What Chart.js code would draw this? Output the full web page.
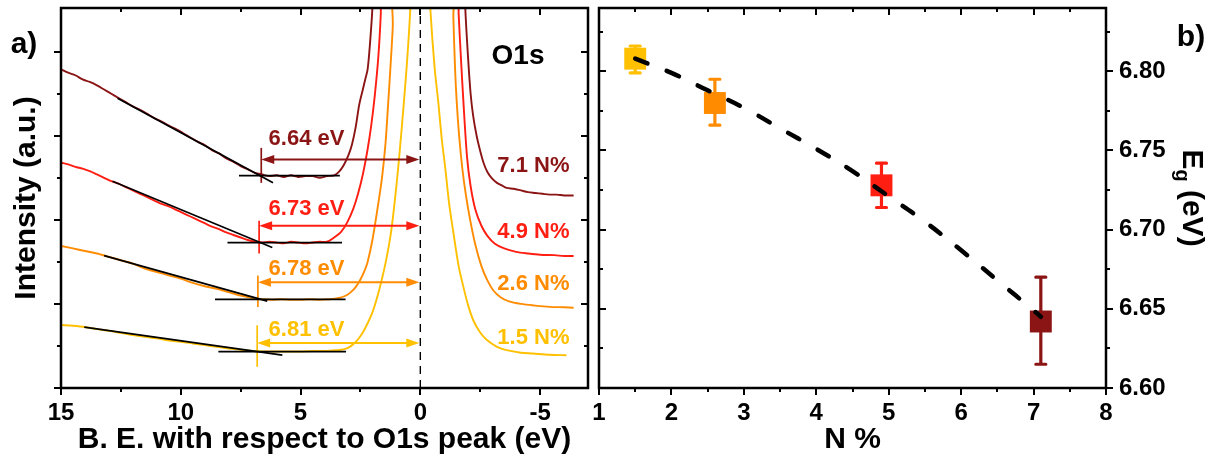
<!DOCTYPE html>
<html>
<head>
<meta charset="utf-8">
<script src="https://cdn.jsdelivr.net/npm/chart.js@4.4.1/dist/chart.umd.min.js"></script>
<style>
body { margin: 0; background: #fff; }
#wrap { position: relative; width: 1219px; height: 464px; overflow: hidden; }
canvas { position: absolute; top: 0; }
#spec { left: 0; }
#gap { left: 588px; }
</style>
</head>
<body>
<div id="wrap">
<canvas id="spec" width="595" height="464"></canvas>
<canvas id="gap" width="631" height="464"></canvas>
</div>
<script>
// cores das amostras (7.1, 4.9, 2.6, 1.5 N%)
var colDark = '#8b1414', colRed = '#ff1e12', colOrange = '#ff8c00', colYellow = '#ffc000';

// espectros O1s (energia de ligação relativa ao pico, intensidade em u.a.)
var be71 = [15.0, 14.7, 14.4, 14.1, 13.8, 13.5, 13.2, 12.9, 12.6, 12.3, 12.0, 11.7, 11.4, 11.1, 10.8, 10.5, 10.2, 9.9, 9.6, 9.3, 9.0, 8.7, 8.4, 8.1, 7.8, 7.5, 7.2, 6.9, 6.6, 6.3, 6.0, 5.7, 5.4, 5.1, 4.8, 4.5, 4.2, 3.9, 3.6, 3.4, 3.2, 3.0, 2.85, 2.7, 2.55, 2.4, 2.3, 2.2, 2.1, 2.0, 1.9,
            -1.8, -1.88, -2.0, -2.1, -2.2, -2.35, -2.5, -2.65, -2.8, -3.0, -3.2, -3.4, -3.6, -3.9, -4.2, -4.5, -4.8, -5.1, -5.4, -5.7, -6.0, -6.4];
var int71 = [3.79, 3.75, 3.72, 3.67, 3.64, 3.60, 3.55, 3.50, 3.45, 3.40, 3.35, 3.31, 3.26, 3.21, 3.17, 3.12, 3.08, 3.03, 2.98, 2.93, 2.89, 2.83, 2.79, 2.73, 2.69, 2.64, 2.60, 2.56, 2.54, 2.52, 2.53, 2.51, 2.53, 2.51, 2.52, 2.52, 2.50, 2.52, 2.53, 2.57, 2.65, 2.77, 2.90, 3.10, 3.37, 3.55, 3.67, 3.79, 4.10, 4.52, 5.2,
             5.2, 4.5, 3.9, 3.5, 3.25, 3.0, 2.82, 2.67, 2.57, 2.49, 2.44, 2.41, 2.38, 2.37, 2.35, 2.33, 2.32, 2.31, 2.30, 2.30, 2.29, 2.29];

var be49 = [15.0, 14.7, 14.4, 14.1, 13.8, 13.5, 13.2, 12.9, 12.6, 12.3, 12.0, 11.7, 11.4, 11.1, 10.8, 10.5, 10.2, 9.9, 9.6, 9.3, 9.0, 8.7, 8.4, 8.1, 7.8, 7.5, 7.2, 6.9, 6.6, 6.3, 6.0, 5.7, 5.4, 5.1, 4.8, 4.5, 4.2, 3.9, 3.6, 3.3, 3.05, 2.8, 2.6, 2.4, 2.2, 2.05, 1.9, 1.75, 1.65, 1.55,
            -1.5, -1.6, -1.7, -1.8, -1.95, -2.1, -2.3, -2.55, -2.8, -3.1, -3.5, -4.0, -4.5, -5.0, -5.6, -6.0, -6.4];
var int49 = [2.68, 2.66, 2.63, 2.61, 2.58, 2.54, 2.50, 2.46, 2.43, 2.39, 2.35, 2.31, 2.27, 2.23, 2.19, 2.16, 2.12, 2.08, 2.04, 2.00, 1.96, 1.92, 1.89, 1.85, 1.82, 1.79, 1.76, 1.74, 1.73, 1.74, 1.73, 1.72, 1.74, 1.73, 1.72, 1.73, 1.74, 1.74, 1.79, 1.86, 1.97, 2.13, 2.31, 2.54, 2.84, 3.12, 3.48, 3.95, 4.45, 5.2,
             5.2, 4.45, 3.9, 3.4, 2.75, 2.4, 2.12, 1.93, 1.81, 1.72, 1.66, 1.62, 1.60, 1.585, 1.58, 1.57, 1.57];

var be26 = [15.0, 14.5, 14.0, 13.5, 13.0, 12.5, 12.0, 11.5, 11.0, 10.5, 10.0, 9.5, 9.0, 8.5, 8.0, 7.5, 7.0, 6.6, 6.2, 5.8, 5.4, 5.0, 4.6, 4.2, 3.8, 3.4, 3.1, 2.9, 2.7, 2.5, 2.35, 2.2, 2.0, 1.8, 1.6, 1.45, 1.35, 1.25, 1.15, 1.05,
            -1.3, -1.38, -1.45, -1.52, -1.62, -1.75, -1.9, -2.08, -2.3, -2.55, -2.8, -3.05, -3.35, -3.7, -4.2, -4.8, -5.4, -6.0, -6.4];
var int26 = [1.69, 1.66, 1.63, 1.60, 1.56, 1.52, 1.48, 1.42, 1.38, 1.34, 1.30, 1.25, 1.21, 1.18, 1.14, 1.10, 1.07, 1.055, 1.05, 1.055, 1.05, 1.05, 1.055, 1.05, 1.055, 1.07, 1.10, 1.14, 1.20, 1.29, 1.38, 1.50, 1.76, 2.11, 2.50, 2.92, 3.35, 3.80, 4.30, 5.2,
             5.2, 4.4, 3.8, 3.4, 3.0, 2.62, 2.3, 2.0, 1.7, 1.45, 1.28, 1.16, 1.08, 1.03, 1.0, 0.98, 0.965, 0.96, 0.955];

var be15 = [15.0, 14.5, 14.0, 13.5, 13.0, 12.5, 12.0, 11.5, 11.0, 10.5, 10.0, 9.5, 9.0, 8.5, 8.0, 7.5, 7.0, 6.5, 6.0, 5.5, 5.0, 4.5, 4.0, 3.5, 3.2, 3.0, 2.8, 2.6, 2.4, 2.2, 2.0, 1.8, 1.6, 1.4, 1.2, 1.0, 0.85, 0.7, 0.55, 0.42, 0.32,
            -0.3, -0.42, -0.6, -0.75, -0.9, -1.04, -1.2, -1.39, -1.6, -1.8, -2.0, -2.22, -2.5, -2.78, -3.2, -3.6, -4.2, -4.7, -5.4, -6.1];
var int15 = [0.75, 0.74, 0.725, 0.70, 0.68, 0.655, 0.63, 0.61, 0.59, 0.565, 0.55, 0.53, 0.51, 0.49, 0.47, 0.455, 0.44, 0.435, 0.435, 0.435, 0.435, 0.44, 0.44, 0.45, 0.46, 0.48, 0.52, 0.58, 0.66, 0.77, 0.90, 1.08, 1.30, 1.56, 1.90, 2.40, 2.85, 3.35, 3.90, 4.50, 5.2,
             5.2, 4.5, 3.8, 3.4, 2.95, 2.62, 2.2, 1.83, 1.45, 1.2, 0.98, 0.80, 0.66, 0.57, 0.49, 0.45, 0.42, 0.41, 0.395, 0.39];

// retas de extrapolação (pretas)
var tanBE71 = [12.64, 6.15], tanI71 = [3.447, 2.441], flatBE71 = [7.57, 3.36], flatI71 = [2.525, 2.525];
var tanBE49 = [12.85, 6.18], tanI49 = [2.46, 1.672], flatBE49 = [8.05, 3.27], flatI49 = [1.73, 1.73];
var tanBE26 = [13.2, 6.39], tanI26 = [1.574, 1.033], flatBE26 = [8.57, 3.12], flatI26 = [1.055, 1.055];
var tanBE15 = [14.03, 5.76], tanI15 = [0.725, 0.39], flatBE15 = [8.43, 3.1], flatI15 = [0.432, 0.432];

// gap, setas e rótulos
var gapEV = [6.64, 6.73, 6.78, 6.81];
var gapLabels = ['6.64 eV', '6.73 eV', '6.78 eV', '6.81 eV'];
var sampleLabels = ['7.1 N%', '4.9 N%', '2.6 N%', '1.5 N%'];
var arrowY = [2.718, 1.93, 1.258, 0.536];
var markLow = [2.44, 1.60, 0.962, 0.252];
var markHigh = [2.856, 1.99, 1.337, 0.746];
var gapLabelY = [2.966, 2.127, 1.417, 0.695];
var sampleLabelY = [2.64, 1.858, 1.239, 0.60];

// painel b) Eg vs N%
var nPct = [1.5, 2.6, 4.9, 7.1];
var eg = [6.808, 6.780, 6.728, 6.642];
var egLow = [6.799, 6.766, 6.714, 6.615];
var egHigh = [6.816, 6.795, 6.742, 6.670];
var fitN = [1.5, 2.0, 2.5, 3.0, 3.5, 4.0, 4.5, 5.0, 5.5, 6.0, 6.5, 7.0, 7.1];
var fitEg = [6.808, 6.799, 6.788, 6.777, 6.764, 6.751, 6.737, 6.721, 6.705, 6.687, 6.668, 6.649, 6.645];

// ticks
var specXTicks = [15, 10, 5, 0, -5], specXMinor = [12.5, 7.5, 2.5, -2.5];
var specYTicks = [0, 1, 2, 3, 4], specYMinor = [0.5, 1.5, 2.5, 3.5];
var nTicks = [1, 2, 3, 4, 5, 6, 7, 8], nMinor = [1.5, 2.5, 3.5, 4.5, 5.5, 6.5, 7.5];
var egTicks = [6.60, 6.65, 6.70, 6.75, 6.80], egMinor = [6.625, 6.675, 6.725, 6.775, 6.825];
var egTickLabels = ['6.60', '6.65', '6.70', '6.75', '6.80'];

var sampleColors = [colDark, colRed, colOrange, colYellow];   // painel a): de cima para baixo
var pointColors = [colYellow, colOrange, colRed, colDark];    // painel b): na ordem de nPct

Chart.defaults.font.family = '"Liberation Sans", Arial, sans-serif';
Chart.defaults.color = '#000';

var FAM = '"Liberation Sans", Arial, sans-serif';
var tickFont = { size: 24, weight: 'bold' };
var titleFont = { size: 30, weight: 'bold', lineHeight: 1 };

function pts(xs, ys) {
    return xs.map(function (x, i) { return { x: x, y: ys[i] }; });
}

// tira o espaço extra que o Chart.js reserva para rótulos nas pontas
function noEdgePad(s) {
    s.paddingLeft = 0; s.paddingRight = 0; s.paddingTop = 0; s.paddingBottom = 0;
}

// moldura + ticks maiores/menores (como no Origin)
function framePlugin(cfg) {
    return {
        id: 'frame',
        afterDraw: function (chart) {
            var ctx = chart.ctx, a = chart.chartArea;
            var xs = chart.scales.x, ys = chart.scales.y;
            ctx.save();
            ctx.strokeStyle = '#000';
            ctx.lineWidth = 2;
            function vtick(vals, len) {
                vals.forEach(function (v) {
                    var p = Math.round(xs.getPixelForValue(v));
                    ctx.beginPath();
                    ctx.moveTo(p, a.bottom); ctx.lineTo(p, a.bottom + len);
                    ctx.moveTo(p, a.top); ctx.lineTo(p, a.top + len);
                    ctx.stroke();
                });
            }
            function htick(vals, len) {
                vals.forEach(function (v) {
                    var p = Math.round(ys.getPixelForValue(v));
                    ctx.beginPath();
                    if (cfg.leftOut) { ctx.moveTo(a.left - len, p); ctx.lineTo(a.left, p); }
                    else { ctx.moveTo(a.left, p); ctx.lineTo(a.left + len, p); }
                    if (cfg.rightOut) { ctx.moveTo(a.right, p); ctx.lineTo(a.right + len, p); }
                    else { ctx.moveTo(a.right - len, p); ctx.lineTo(a.right, p); }
                    ctx.stroke();
                });
            }
            vtick(cfg.xMajor, 7); vtick(cfg.xMinor, 4);
            htick(cfg.yMajor, 7); htick(cfg.yMinor, 4);
            ctx.lineWidth = 2.5;
            ctx.strokeRect(a.left, a.top, a.right - a.left, a.bottom - a.top);
            ctx.restore();
        }
    };
}

// setas de gap + textos do painel a)
var specDecor = {
    id: 'specDecor',
    afterDatasetsDraw: function (chart) {
        var ctx = chart.ctx, xs = chart.scales.x, ys = chart.scales.y;
        ctx.save();
        for (var i = 0; i < gapEV.length; i++) {
            var x1 = xs.getPixelForValue(gapEV[i]), x2 = xs.getPixelForValue(0);
            var y = ys.getPixelForValue(arrowY[i]);
            ctx.strokeStyle = sampleColors[i];
            ctx.fillStyle = sampleColors[i];
            ctx.lineWidth = 2;
            ctx.beginPath(); ctx.moveTo(x1 + 10, y); ctx.lineTo(x2 - 10, y); ctx.stroke();
            ctx.beginPath(); ctx.moveTo(x1, y); ctx.lineTo(x1 + 13, y - 4.5); ctx.lineTo(x1 + 13, y + 4.5); ctx.closePath(); ctx.fill();
            ctx.beginPath(); ctx.moveTo(x2 - 1, y); ctx.lineTo(x2 - 14, y - 4.5); ctx.lineTo(x2 - 14, y + 4.5); ctx.closePath(); ctx.fill();

            ctx.font = 'bold 22px ' + FAM;
            ctx.textAlign = 'center';
            ctx.textBaseline = 'middle';
            ctx.fillText(gapLabels[i], xs.getPixelForValue(4.75), ys.getPixelForValue(gapLabelY[i]));
            ctx.fillText(sampleLabels[i], xs.getPixelForValue(-4.72), ys.getPixelForValue(sampleLabelY[i]));
        }
        ctx.fillStyle = '#000';
        ctx.font = 'bold 28px ' + FAM;
        ctx.fillText('O1s', xs.getPixelForValue(-4.08), ys.getPixelForValue(3.95));
        ctx.font = 'bold 30px ' + FAM;
        ctx.fillText('a)', 24, 45);
        ctx.restore();
    }
};

var specDatasets = [];
var tangents = [[tanBE71, tanI71], [flatBE71, flatI71], [tanBE49, tanI49], [flatBE49, flatI49],
                [tanBE26, tanI26], [flatBE26, flatI26], [tanBE15, tanI15], [flatBE15, flatI15]];
tangents.forEach(function (t) {
    specDatasets.push({ data: pts(t[0], t[1]), borderColor: '#000', borderWidth: 1.7, pointRadius: 0, order: 0 });
});
for (var k = 0; k < gapEV.length; k++) {
    specDatasets.push({ data: pts([gapEV[k], gapEV[k]], [markLow[k], markHigh[k]]), borderColor: sampleColors[k], borderWidth: 1.7, pointRadius: 0, order: 1 });
}
specDatasets.push({ data: pts([0, 0], [0, 4.52]), borderColor: '#000', borderWidth: 1.4, borderDash: [8, 6], pointRadius: 0, order: 2 });
[[be71, int71], [be49, int49], [be26, int26], [be15, int15]].forEach(function (c, i) {
    specDatasets.push({ data: pts(c[0], c[1]), borderColor: sampleColors[i], borderWidth: 1.9, pointRadius: 0, tension: 0.3, order: 3 });
});

new Chart(document.getElementById('spec'), {
    type: 'line',
    data: { datasets: specDatasets },
    options: {
        responsive: false,
        animation: false,
        devicePixelRatio: 1,
        layout: { autoPadding: false, padding: { left: 0, top: 8, right: 7, bottom: 0 } },
        plugins: { legend: { display: false }, tooltip: { enabled: false } },
        scales: {
            x: {
                type: 'linear', reverse: true, min: -7, max: 15,
                afterBuildTicks: function (s) { s.ticks = specXTicks.map(function (v) { return { value: v }; }); },
                afterFit: function (s) { s.height = 76; noEdgePad(s); },
                grid: { display: false, drawTicks: false },
                border: { display: false },
                ticks: { padding: 11, font: tickFont, color: '#000', maxRotation: 0, autoSkip: false },
                title: { display: true, text: 'B. E. with respect to O1s peak (eV)', font: titleFont, color: '#000', padding: { top: 0, bottom: 9 } }
            },
            y: {
                type: 'linear', min: 0, max: 4.52,
                afterFit: function (s) { s.width = 61; noEdgePad(s); },
                grid: { display: false, drawTicks: false },
                border: { display: false },
                ticks: { display: false },
                title: { display: true, text: 'Intensity (a.u.)', font: titleFont, color: '#000', padding: { top: 12, bottom: 0 } }
            }
        }
    },
    plugins: [specDecor, framePlugin({ xMajor: specXTicks, xMinor: specXMinor, yMajor: specYTicks, yMinor: specYMinor, leftOut: true, rightOut: false })]
});

// barras de erro + título Eg com subscrito
var gapDecor = {
    id: 'gapDecor',
    beforeDatasetsDraw: function (chart) {
        var ctx = chart.ctx, xs = chart.scales.x, ys = chart.scales.y;
        ctx.save();
        ctx.lineWidth = 3.2;
        ctx.lineCap = 'round';
        for (var i = 0; i < nPct.length; i++) {
            var x = xs.getPixelForValue(nPct[i]);
            var y1 = ys.getPixelForValue(egLow[i]), y2 = ys.getPixelForValue(egHigh[i]);
            ctx.strokeStyle = pointColors[i];
            ctx.beginPath();
            ctx.moveTo(x, y1); ctx.lineTo(x, y2);
            ctx.moveTo(x - 5, y1); ctx.lineTo(x + 5, y1);
            ctx.moveTo(x - 5, y2); ctx.lineTo(x + 5, y2);
            ctx.stroke();
        }
        ctx.restore();
    },
    afterDraw: function (chart) {
        var ctx = chart.ctx, a = chart.chartArea;
        ctx.save();
        ctx.fillStyle = '#000';
        ctx.textBaseline = 'middle';
        ctx.textAlign = 'left';
        var big = 'bold 30px ' + FAM, small = 'bold 20px ' + FAM;
        ctx.font = big; var wE = ctx.measureText('E').width; var wR = ctx.measureText(' (eV)').width;
        ctx.font = small; var wG = ctx.measureText('g').width;
        var total = wE + wG + wR;
        ctx.translate(1191 - 588, (a.top + a.bottom) / 2);
        ctx.rotate(Math.PI / 2);
        var x0 = -total / 2;
        ctx.font = big; ctx.fillText('E', x0, 0);
        ctx.font = small; ctx.fillText('g', x0 + wE, 9);
        ctx.font = big; ctx.fillText(' (eV)', x0 + wE + wG, 0);
        ctx.restore();
        ctx.save();
        ctx.font = 'bold 30px ' + FAM;
        ctx.textAlign = 'center';
        ctx.textBaseline = 'middle';
        ctx.fillText('b)', 1191 - 588, 38);
        ctx.restore();
    }
};

new Chart(document.getElementById('gap'), {
    type: 'line',
    data: {
        datasets: [
            { data: pts(fitN, fitEg), borderColor: '#000', borderWidth: 4.5, borderDash: [13, 21], borderCapStyle: 'round', pointRadius: 0, tension: 0.4, order: 0 },
            { data: pts(nPct, eg), showLine: false, pointStyle: 'rect', pointRadius: 15.5, pointBackgroundColor: pointColors, pointBorderWidth: 0, order: 1 }
        ]
    },
    options: {
        responsive: false,
        animation: false,
        devicePixelRatio: 1,
        layout: { autoPadding: false, padding: { left: 11, top: 8, right: 0, bottom: 0 } },
        plugins: { legend: { display: false }, tooltip: { enabled: false } },
        scales: {
            x: {
                type: 'linear', min: 1, max: 8,
                afterBuildTicks: function (s) { s.ticks = nTicks.map(function (v) { return { value: v }; }); },
                afterFit: function (s) { s.height = 76; noEdgePad(s); },
                grid: { display: false, drawTicks: false },
                border: { display: false },
                ticks: { padding: 11, font: tickFont, color: '#000', maxRotation: 0, autoSkip: false },
                title: { display: true, text: 'N %', font: titleFont, color: '#000', padding: { top: 0, bottom: 9 } }
            },
            y: {
                type: 'linear', position: 'right', min: 6.60, max: 6.84,
                afterBuildTicks: function (s) { s.ticks = egTicks.map(function (v) { return { value: v }; }); },
                afterFit: function (s) { s.width = 113; noEdgePad(s); },
                grid: { display: false, drawTicks: false },
                border: { display: false },
                ticks: { padding: 13, font: tickFont, color: '#000', autoSkip: false, callback: function (v, i) { return egTickLabels[i]; } }
            }
        }
    },
    plugins: [gapDecor, framePlugin({ xMajor: nTicks, xMinor: nMinor, yMajor: egTicks, yMinor: egMinor, leftOut: false, rightOut: true })]
});
</script>
</body>
</html>
